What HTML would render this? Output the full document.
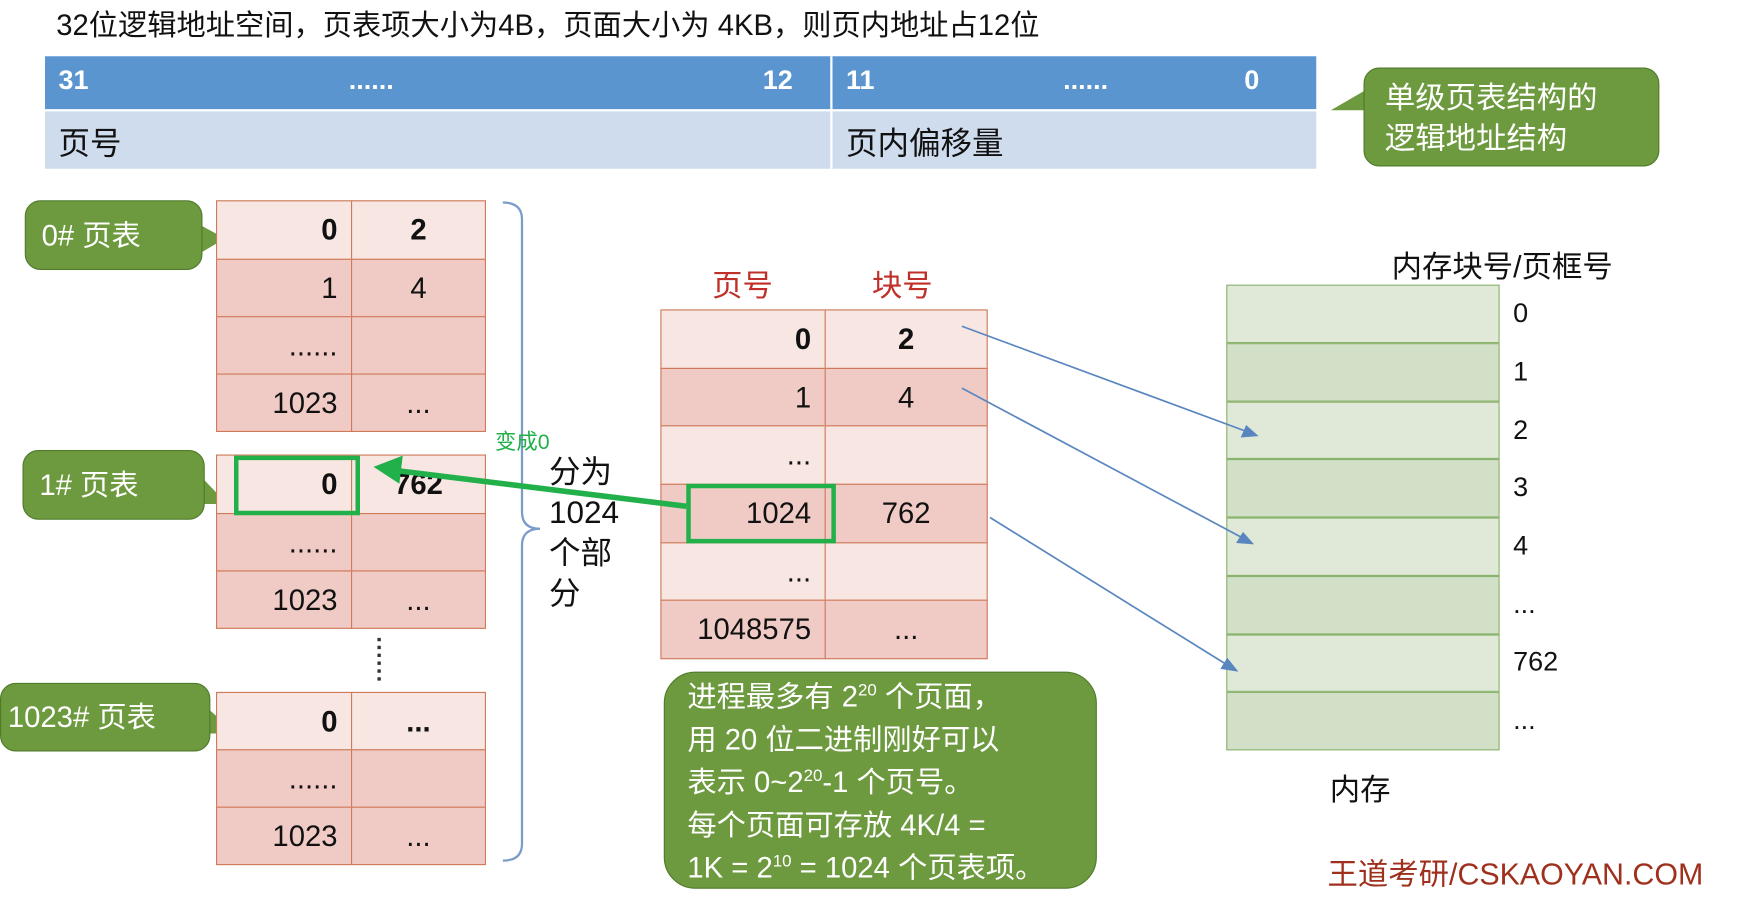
<!DOCTYPE html>
<html><head><meta charset="utf-8"><style>
body{margin:0;width:1764px;height:897px;overflow:hidden;background:#fff}
#w{position:absolute;left:0;top:0;width:1568px;height:797px;transform:scale(1.125);transform-origin:0 0;font-family:"Liberation Sans","Noto Sans CJK SC",sans-serif;color:#111}
.a{position:absolute;white-space:nowrap}
.c{position:absolute;box-sizing:border-box;border:1.5px solid #d07a5a;font-size:26px;display:flex;align-items:center;padding:0 12px}
.r{justify-content:flex-end}.m{justify-content:center}
.l{background:#f8e6e2}.d{background:#f0cbc5}
.g{position:absolute;background:#6d9a3e;border:1.5px solid #4f7a2a;border-radius:14px;color:#fff}
.mem{position:absolute;left:1090px;width:243px;height:51.75px;box-sizing:border-box;border:1.5px solid #8ab36e}
sup{font-size:15px;line-height:0;vertical-align:10px}
</style></head><body><div id="w">
<div class="a" style="left:50px;top:2px;font-size:26px">32位逻辑地址空间，页表项大小为4B，页面大小为 4KB，则页内地址占12位</div>
<div class="a" style="left:40px;top:50px;width:1130px;height:47px;background:#5a95d0"></div>
<div class="a" style="left:40px;top:99px;width:1130px;height:51px;background:#cfdcee"></div>
<div class="a" style="left:738px;top:50px;width:2px;height:100px;background:#fff"></div>
<div class="a" style="left:52px;top:58px;color:#fff;font-weight:bold;font-size:24px">31</div>
<div class="a" style="left:310px;top:58px;color:#fff;font-weight:bold;font-size:24px">......</div>
<div class="a" style="left:678px;top:58px;color:#fff;font-weight:bold;font-size:24px">12</div>
<div class="a" style="left:752px;top:58px;color:#fff;font-weight:bold;font-size:24px">11</div>
<div class="a" style="left:945px;top:58px;color:#fff;font-weight:bold;font-size:24px">......</div>
<div class="a" style="left:1106px;top:58px;color:#fff;font-weight:bold;font-size:24px">0</div>
<div class="a" style="left:52px;top:106px;font-size:28px">页号</div>
<div class="a" style="left:752px;top:106px;font-size:28px">页内偏移量</div>
<svg class="a" style="left:0;top:0" width="1568" height="797">
<polygon points="1214,80 1183,98 1214,98" fill="#6d9a3e"/>
<polygon points="178,200 200,212 178,225" fill="#6d9a3e"/>
<polygon points="180,425 202,448 180,448" fill="#6d9a3e"/>
<polygon points="185,630 210,652 185,652" fill="#6d9a3e"/>
<path d="M447,180 Q464,180 464,195 L464,455 Q464,470 480,470 Q464,470 464,485 L464,750 Q464,765 447,765" fill="none" stroke="#7a9cc8" stroke-width="2"/>
<line x1="337" y1="567" x2="337" y2="606" stroke="#333" stroke-width="3" stroke-dasharray="3,4"/>
</svg>
<div class="g" style="left:1212px;top:60px;width:263px;height:88px;font-size:27px;line-height:36px;padding:8px 0 0 18px;box-sizing:border-box">单级页表结构的<br>逻辑地址结构</div>
<div class="g" style="left:22px;top:178px;width:158px;height:62px;font-size:26px;line-height:60px;padding-left:14px;box-sizing:border-box">0# 页表</div>
<div class="g" style="left:20px;top:400px;width:162px;height:62px;font-size:26px;line-height:60px;padding-left:14px;box-sizing:border-box">1# 页表</div>
<div class="g" style="left:0px;top:607px;width:187px;height:61px;font-size:26px;line-height:58px;padding-left:6px;box-sizing:border-box">1023# 页表</div>

<div class="c r l" style="left:192px;top:178px;width:121px;height:53px;font-weight:bold">0</div>
<div class="c m l" style="left:312px;top:178px;width:120px;height:53px;font-weight:bold">2</div>
<div class="c r d" style="left:192px;top:230px;width:121px;height:52px">1</div>
<div class="c m d" style="left:312px;top:230px;width:120px;height:52px">4</div>
<div class="c r d" style="left:192px;top:281px;width:121px;height:52px">......</div>
<div class="c m d" style="left:312px;top:281px;width:120px;height:52px"></div>
<div class="c r d" style="left:192px;top:332px;width:121px;height:52px">1023</div>
<div class="c m d" style="left:312px;top:332px;width:120px;height:52px">...</div>

<div class="c r l" style="left:192px;top:404px;width:121px;height:53px;font-weight:bold">0</div>
<div class="c m l" style="left:312px;top:404px;width:120px;height:53px;font-weight:bold">762</div>
<div class="c r d" style="left:192px;top:456px;width:121px;height:52px">......</div>
<div class="c m d" style="left:312px;top:456px;width:120px;height:52px"></div>
<div class="c r d" style="left:192px;top:507px;width:121px;height:52px">1023</div>
<div class="c m d" style="left:312px;top:507px;width:120px;height:52px">...</div>

<div class="c r l" style="left:192px;top:615px;width:121px;height:52px;font-weight:bold">0</div>
<div class="c m l" style="left:312px;top:615px;width:120px;height:52px;font-weight:bold">...</div>
<div class="c r d" style="left:192px;top:666px;width:121px;height:52px">......</div>
<div class="c m d" style="left:312px;top:666px;width:120px;height:52px"></div>
<div class="c r d" style="left:192px;top:717px;width:121px;height:52px">1023</div>
<div class="c m d" style="left:312px;top:717px;width:120px;height:52px">...</div>

<div class="a" style="left:208px;top:405px;width:112px;height:53px;box-sizing:border-box;border:4px solid #22b04b"></div>
<div class="a" style="left:440px;top:378px;font-size:19px;color:#22b04b">变成0</div>
<div class="a" style="left:488px;top:402px;font-size:28px;line-height:36px;white-space:normal;width:70px">分为<br>1024<br>个部<br>分</div>

<div class="a" style="left:633px;top:232px;font-size:27px;color:#c0302a">页号</div>
<div class="a" style="left:775px;top:232px;font-size:27px;color:#c0302a">块号</div>
<div class="c r l" style="left:587px;top:275px;width:147px;height:53px;font-weight:bold">0</div>
<div class="c m l" style="left:733px;top:275px;width:145px;height:53px;font-weight:bold">2</div>
<div class="c r d" style="left:587px;top:327px;width:147px;height:52px">1</div>
<div class="c m d" style="left:733px;top:327px;width:145px;height:52px">4</div>
<div class="c r l" style="left:587px;top:378px;width:147px;height:53px">...</div>
<div class="c m l" style="left:733px;top:378px;width:145px;height:53px"></div>
<div class="c r d" style="left:587px;top:430px;width:147px;height:53px">1024</div>
<div class="c m d" style="left:733px;top:430px;width:145px;height:53px">762</div>
<div class="c r l" style="left:587px;top:482px;width:147px;height:52px">...</div>
<div class="c m l" style="left:733px;top:482px;width:145px;height:52px"></div>
<div class="c r d" style="left:587px;top:533px;width:147px;height:53px">1048575</div>
<div class="c m d" style="left:733px;top:533px;width:145px;height:53px">...</div>
<div class="a" style="left:610px;top:430px;width:133px;height:53px;box-sizing:border-box;border:4px solid #22b04b"></div>

<div class="g" style="left:590px;top:597px;width:385px;height:193px;font-size:26px;line-height:38px;padding:2px 0 0 20px;box-sizing:border-box;border-radius:28px;white-space:nowrap">进程最多有 2<sup>20</sup> 个页面，<br>用 20 位二进制刚好可以<br>表示 0~2<sup>20</sup>-1 个页号。<br>每个页面可存放 4K/4 =<br>1K = 2<sup>10</sup> = 1024 个页表项。</div>

<div class="a" style="left:1237px;top:215px;font-size:27px">内存块号/页框号</div>
<div class="mem" style="top:253px;background:#e0e9d8"></div>
<div class="mem" style="top:304.75px;background:#d3e0c8"></div>
<div class="mem" style="top:356.5px;background:#e0e9d8"></div>
<div class="mem" style="top:408.25px;background:#d3e0c8"></div>
<div class="mem" style="top:460px;background:#e0e9d8"></div>
<div class="mem" style="top:511.75px;background:#d3e0c8"></div>
<div class="mem" style="top:563.5px;background:#e0e9d8"></div>
<div class="mem" style="top:615.25px;background:#d3e0c8"></div>
<div class="a" style="left:1345px;top:265px;font-size:24px">0</div>
<div class="a" style="left:1345px;top:317px;font-size:24px">1</div>
<div class="a" style="left:1345px;top:369px;font-size:24px">2</div>
<div class="a" style="left:1345px;top:420px;font-size:24px">3</div>
<div class="a" style="left:1345px;top:472px;font-size:24px">4</div>
<div class="a" style="left:1345px;top:524px;font-size:24px">...</div>
<div class="a" style="left:1345px;top:575px;font-size:24px">762</div>
<div class="a" style="left:1345px;top:627px;font-size:24px">...</div>
<div class="a" style="left:1182px;top:680px;font-size:27px">内存</div>
<div class="a" style="left:1180px;top:755px;font-size:27px;color:#a0301e">王道考研/CSKAOYAN.COM</div>
<svg class="a" style="left:0;top:0;z-index:5" width="1568" height="797">
<g stroke="#5a86c0" stroke-width="1.5" fill="#5a86c0">
<line x1="855" y1="290" x2="1112" y2="385"/><polygon points="1117,387 1104,388 1108,379"/>
<line x1="855" y1="345" x2="1108" y2="480"/><polygon points="1113,483 1100,482 1105,474"/>
<line x1="880" y1="460" x2="1094" y2="593"/><polygon points="1099,596 1086,594 1091,586"/>
</g>
<line x1="610" y1="450" x2="350" y2="418" stroke="#22b04b" stroke-width="5"/>
<polygon points="332,415 358,405 355,430" fill="#22b04b"/>
</svg>
</div></body></html>
